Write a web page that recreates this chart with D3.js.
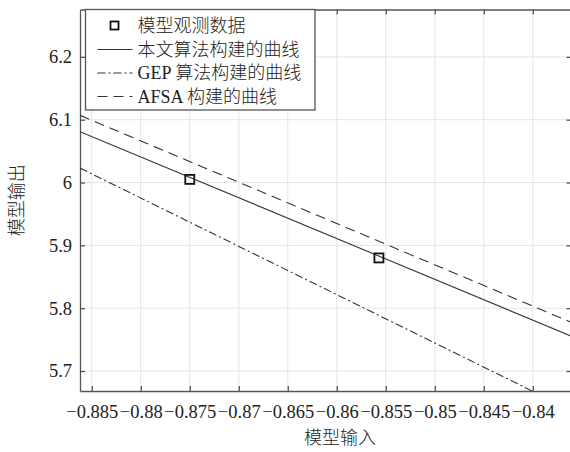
<!DOCTYPE html>
<html>
<head>
<meta charset="utf-8">
<script src="https://cdn.jsdelivr.net/npm/d3@7"></script>
<style>
  body { margin: 0; background: #fff; }
  text { font-family: "Liberation Serif", "Noto Sans CJK SC", serif; fill: #222; }
</style>
</head>
<body>
<div id="chart"></div>
<script>
// data
var xTicks = [-0.885, -0.88, -0.875, -0.87, -0.865, -0.86, -0.855, -0.85, -0.845, -0.84];
var yTicks = [5.7, 5.8, 5.9, 6, 6.1, 6.2];
var obsX = [-0.875, -0.8557];
var obsY = [6.005, 5.88];
var curveX = [-0.8862, -0.836];
var oursY = [6.081, 5.755];
var gepY = [6.023, 5.637];
var afsaY = [6.107, 5.777];
var legendLabels = ["模型观测数据", "本文算法构建的曲线", "GEP 算法构建的曲线", "AFSA 构建的曲线"];

var svgWidth = 570;
var svgHeight = 452;
var margins = { top: 9.5, right: -1.5, bottom: 61, left: 80 };
var width = svgWidth - margins.left - margins.right;
var height = svgHeight - margins.top - margins.bottom;

var svg = d3.select("#chart").append("svg")
  .attr("width", svgWidth)
  .attr("height", svgHeight);

var g = svg.append("g")
  .attr("transform", `translate(${margins.left}, ${margins.top})`);

var x = d3.scaleLinear().domain([-0.8862, -0.83605]).range([0, width]);
var y = d3.scaleLinear().domain([5.6682, 6.2754]).range([height, 0]);

var axisColor = "#555";
var serif = "'Liberation Serif', 'Times New Roman', serif";

// grid
g.append("g").selectAll("line").data(xTicks).enter().append("line")
  .attr("x1", d => x(d)).attr("x2", d => x(d))
  .attr("y1", 0).attr("y2", height)
  .attr("stroke", "#e5e5e5").attr("stroke-width", 1);
g.append("g").selectAll("line").data(yTicks).enter().append("line")
  .attr("x1", 0).attr("x2", width)
  .attr("y1", d => y(d)).attr("y2", d => y(d))
  .attr("stroke", "#e5e5e5").attr("stroke-width", 1);

// axes
var fmtX = d => "\u2212" + String(Math.abs(d));
var bottomAxis = d3.axisBottom(x).tickValues(xTicks).tickSizeInner(-5).tickSizeOuter(0)
  .tickPadding(14).tickFormat(fmtX);
var leftAxis = d3.axisLeft(y).tickValues(yTicks).tickSizeInner(-5).tickSizeOuter(0)
  .tickPadding(8).tickFormat(d => String(d));
var topAxis = d3.axisTop(x).tickValues(xTicks).tickSizeInner(-5).tickSizeOuter(0).tickFormat("");
var rightAxis = d3.axisRight(y).tickValues(yTicks).tickSizeInner(-5).tickSizeOuter(0).tickFormat("");

function styleAxis(sel) {
  sel.attr("font-family", serif).attr("font-size", 18.5);
  sel.select(".domain").attr("stroke", axisColor).attr("stroke-width", 1.3);
  sel.selectAll(".tick line").attr("stroke", axisColor).attr("stroke-width", 1.3);
  sel.selectAll(".tick text").attr("fill", "#222")
    .attr("font-family", serif).style("font-family", serif).attr("font-size", 18.5);
}

g.append("g").attr("transform", `translate(0, ${height})`).call(bottomAxis).call(styleAxis);
g.append("g").call(leftAxis).call(styleAxis);
g.append("g").call(topAxis).call(styleAxis);
g.append("g").attr("transform", `translate(${width}, 0)`).call(rightAxis).call(styleAxis);

// curves
svg.append("defs").append("clipPath").attr("id", "plotClip")
  .append("rect").attr("width", width).attr("height", height);

var line = d3.line().x(d => x(d[0])).y(d => y(d[1]));
var curves = [
  { ys: oursY, dash: null },
  { ys: gepY, dash: "8,3,2,3" },
  { ys: afsaY, dash: "10,6" }
];
var curveG = g.append("g").attr("clip-path", "url(#plotClip)");
curves.forEach(function(c) {
  curveG.append("path")
    .datum(curveX.map((v, i) => [v, c.ys[i]]))
    .attr("d", line)
    .attr("fill", "none")
    .attr("stroke", "#333")
    .attr("stroke-width", 1.1)
    .attr("stroke-dasharray", c.dash);
});

// observed points
g.selectAll(".obs").data(obsX).enter().append("rect")
  .attr("class", "obs")
  .attr("x", (d, i) => x(d) - 4.5)
  .attr("y", (d, i) => y(obsY[i]) - 4.5)
  .attr("width", 9).attr("height", 9)
  .attr("fill", "none").attr("stroke", "#111").attr("stroke-width", 1.8);

// legend
var legend = svg.append("g").attr("transform", "translate(85.5, 9.5)");
legend.append("rect")
  .attr("width", 229.5).attr("height", 100.5)
  .attr("fill", "#fff").attr("stroke", axisColor).attr("stroke-width", 1.3);

var rowY = [16, 40, 63.5, 87];
var dashes = [null, "8,3,2,3", "10,6"];
legend.append("rect")
  .attr("x", 25).attr("y", rowY[0] - 4).attr("width", 8).attr("height", 8)
  .attr("fill", "none").attr("stroke", "#111").attr("stroke-width", 1.8);
dashes.forEach(function(dsh, i) {
  legend.append("line")
    .attr("x1", 12).attr("x2", 47)
    .attr("y1", rowY[i + 1]).attr("y2", rowY[i + 1])
    .attr("stroke", "#333").attr("stroke-width", 1.1)
    .attr("stroke-dasharray", dsh);
});
legend.selectAll(".lab").data(legendLabels).enter().append("text")
  .attr("class", "lab")
  .attr("x", 52)
  .attr("y", (d, i) => rowY[i])
  .attr("dy", "0.35em")
  .attr("font-size", 18)
  .attr("font-weight", 300)
  .text(d => d);

// axis titles
svg.append("text")
  .attr("x", 340).attr("y", 438)
  .attr("dy", "0.35em")
  .attr("text-anchor", "middle")
  .attr("font-size", 18)
  .attr("font-weight", 300)
  .text("模型输入");

svg.append("text")
  .attr("transform", `translate(17, ${margins.top + height / 2}) rotate(-90)`)
  .attr("dy", "0.35em")
  .attr("text-anchor", "middle")
  .attr("font-size", 18)
  .attr("font-weight", 300)
  .text("模型输出");
</script>
</body>
</html>
